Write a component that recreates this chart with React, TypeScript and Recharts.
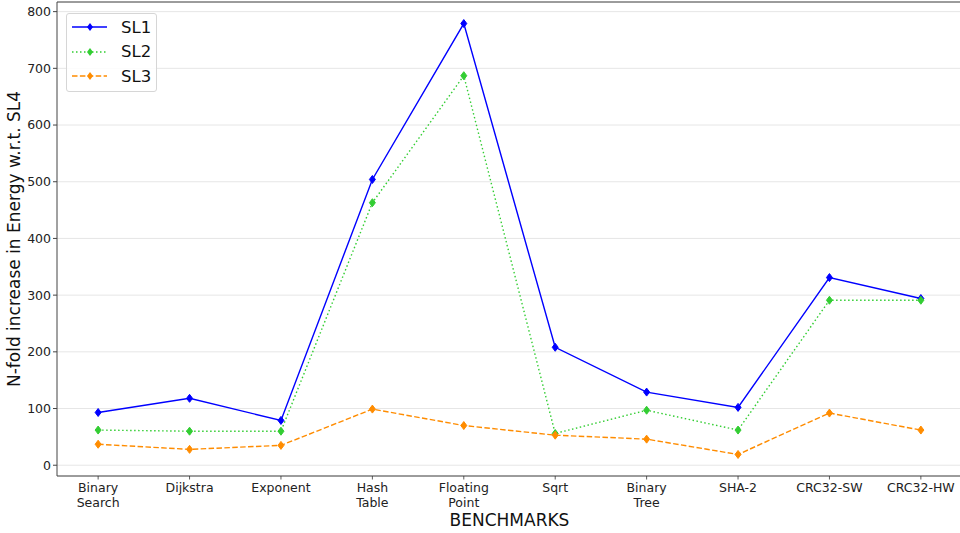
import { LineChart, Line, XAxis, YAxis, CartesianGrid, ReferenceLine } from 'recharts';

const categories = [
  'Binary\nSearch',
  'Dijkstra',
  'Exponent',
  'Hash\nTable',
  'Floating\nPoint',
  'Sqrt',
  'Binary\nTree',
  'SHA-2',
  'CRC32-SW',
  'CRC32-HW',
];

const sl1 = [93, 118, 79, 504, 779, 208, 129, 102, 331, 294];
const sl2 = [62, 60, 60, 463, 687, 56, 97, 62, 291, 291];
const sl3 = [37, 28, 35, 99, 70, 53, 46, 19, 92, 62];

const yTicks = [0, 100, 200, 300, 400, 500, 600, 700, 800];

const SERIES = [
  { key: 'SL1', color: '#0000ff', dash: undefined as string | undefined },
  { key: 'SL2', color: '#32cd32', dash: '1.5 2.5' },
  { key: 'SL3', color: '#ff8c00', dash: '5.5 2.4' },
];

const FONT = '"DejaVu Sans", sans-serif';

const data = categories.map((c, i) => ({ x: i, SL1: sl1[i], SL2: sl2[i], SL3: sl3[i] }));

function Diamond(props: any) {
  const { cx, cy, stroke } = props;
  if (cx == null || cy == null) return null;
  return (
    <polygon
      points={`${cx},${cy - 4} ${cx + 3},${cy} ${cx},${cy + 4} ${cx - 3},${cy}`}
      fill={stroke}
      stroke={stroke}
      strokeWidth={1}
    />
  );
}

function XTick(props: any) {
  const { x, y, payload } = props;
  const lines = categories[payload.value].split('\n');
  return (
    <g>
      <line x1={x} x2={x} y1={y - 8} y2={y - 4.5} stroke="#333" strokeWidth={0.8} />
      {lines.map((l, i) => (
        <text key={i} x={x} y={y + 8 + i * 14.5} textAnchor="middle" fontSize={12.5} fill="#222" fontFamily={FONT}>
          {l}
        </text>
      ))}
    </g>
  );
}

function LegendBox() {
  return (
    <div
      style={{
        position: 'absolute',
        left: 66,
        top: 13,
        width: 91,
        height: 79,
        border: '1px solid #d6d6d6',
        borderRadius: 3,
        background: 'rgba(255,255,255,0.85)',
        boxSizing: 'border-box',
        paddingTop: 1,
      }}
    >
      {SERIES.map((s) => (
        <div key={s.key} style={{ display: 'flex', alignItems: 'center', height: 24.5 }}>
          <svg width={50} height={12}>
            <line x1={5} x2={40} y1={6} y2={6} stroke={s.color} strokeWidth={1.5} strokeDasharray={s.dash} />
            <polygon points="23,2 26,6 23,10 20,6" fill={s.color} />
          </svg>
          <span style={{ fontFamily: FONT, fontSize: 16.5, color: '#111', marginLeft: 4 }}>{s.key}</span>
        </div>
      ))}
    </div>
  );
}

export default function App() {
  return (
    <div style={{ position: 'absolute', left: 0, top: 0, width: 960, height: 533, overflow: 'hidden', background: '#fff' }}>
      <LineChart width={962} height={533} data={data} margin={{ top: 2, right: 0, left: 0, bottom: 0 }}>
        <CartesianGrid horizontal vertical={false} stroke="#e6e6e6" />
        <XAxis
          dataKey="x"
          type="number"
          domain={[-0.45, 9.45]}
          ticks={[0, 1, 2, 3, 4, 5, 6, 7, 8, 9]}
          allowDataOverflow
          tick={<XTick />}
          tickLine={false}
          height={57}
          stroke="#444"
          label={{ value: 'BENCHMARKS', position: 'insideBottom', offset: 7, fontSize: 17, fill: '#111', fontFamily: FONT }}
        />
        <YAxis
          type="number"
          domain={[-19, 817]}
          ticks={yTicks}
          allowDataOverflow
          width={57}
          stroke="#444"
          tickSize={4}
          tick={{ fontSize: 12.5, fill: '#222', fontFamily: FONT }}
          label={{
            value: 'N-fold increase in Energy w.r.t. SL4',
            angle: -90,
            position: 'insideLeft',
            offset: 14,
            style: { textAnchor: 'middle', fontSize: 17, fill: '#111', fontFamily: FONT },
          }}
        />
        <ReferenceLine y={817} stroke="#444" strokeWidth={1} />
        {SERIES.map((s) => (
          <Line
            key={s.key}
            dataKey={s.key}
            stroke={s.color}
            strokeWidth={1.4}
            strokeDasharray={s.dash}
            dot={<Diamond />}
            activeDot={false}
            isAnimationActive={false}
          />
        ))}
      </LineChart>
      <LegendBox />
    </div>
  );
}
